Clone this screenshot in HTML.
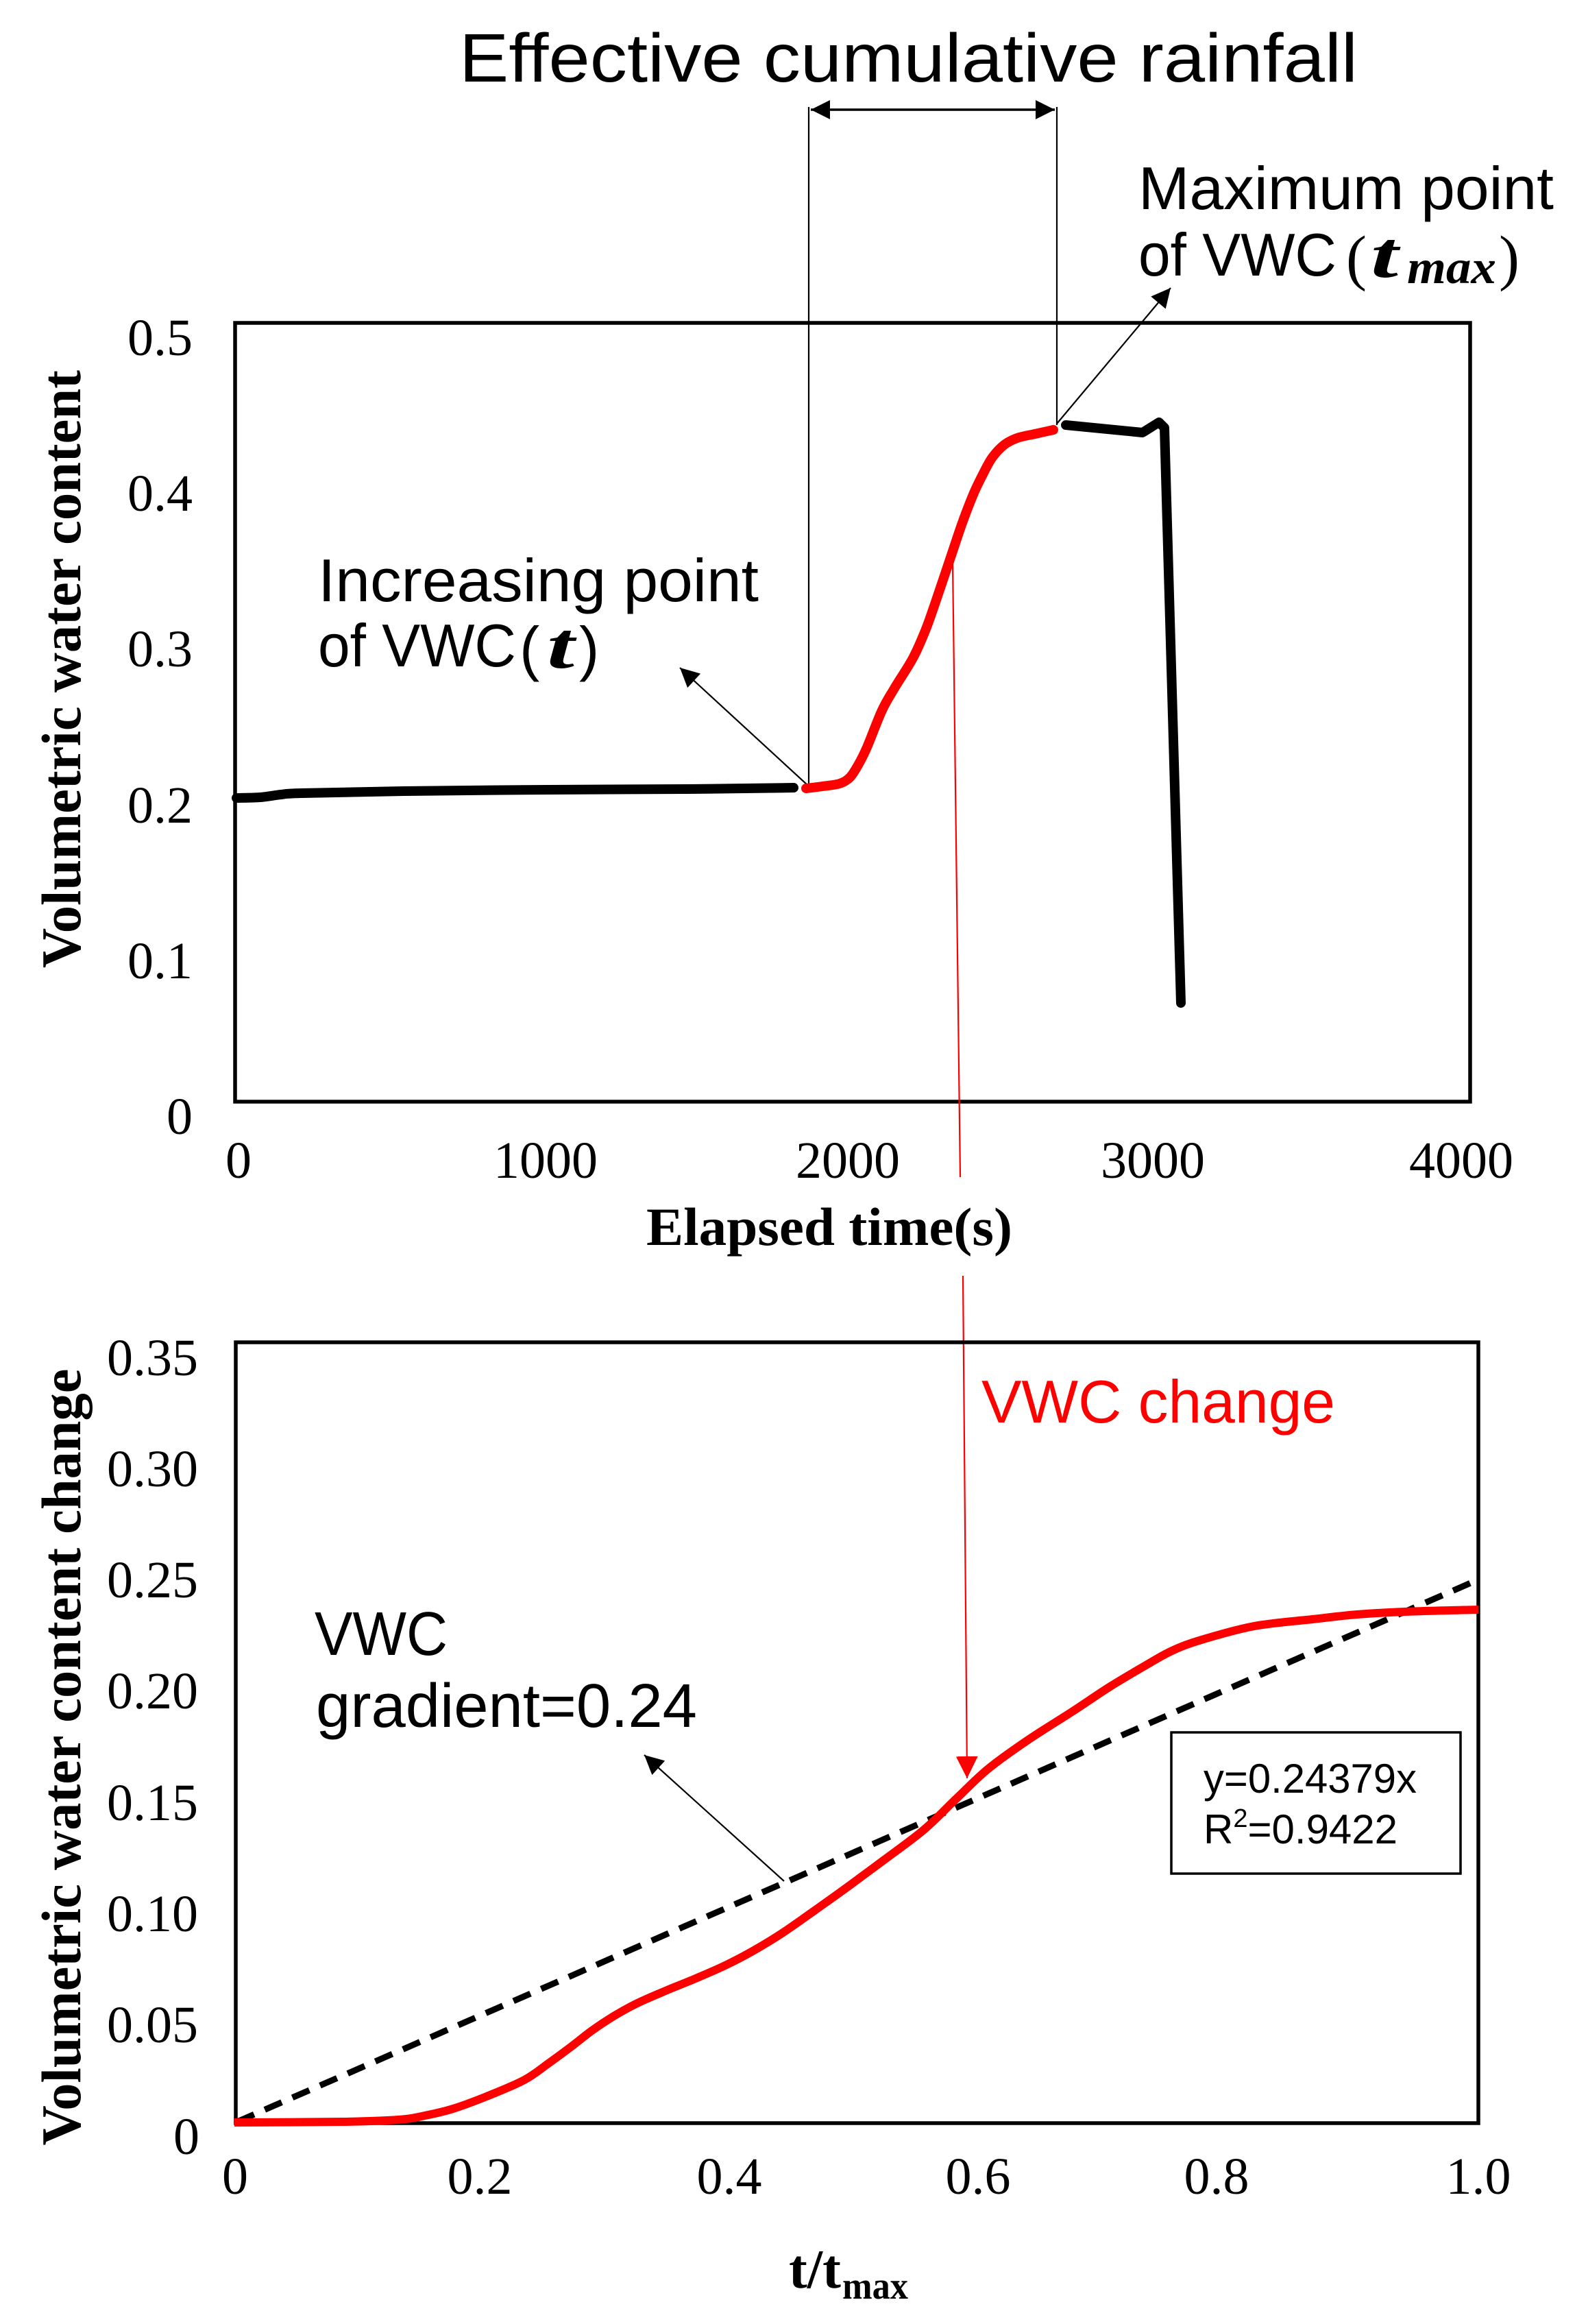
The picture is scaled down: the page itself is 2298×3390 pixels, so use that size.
<!DOCTYPE html>
<html>
<head>
<meta charset="utf-8">
<style>
  html, body { margin: 0; padding: 0; background: #ffffff; }
  svg { display: block; }
  .serif { font-family: "Liberation Serif", "Times New Roman", serif; }
  .sans { font-family: "Liberation Sans", Arial, sans-serif; }
</style>
</head>
<body>
<svg id="chart" width="2298" height="3390" viewBox="0 0 2298 3390" xmlns="http://www.w3.org/2000/svg">
  <defs>
    <marker id="ah" viewBox="0 0 10 10" refX="10" refY="5" markerUnits="userSpaceOnUse" markerWidth="36" markerHeight="28" orient="auto-start-reverse">
      <path d="M0,0 L10,5 L0,10 z" fill="#000"/>
    </marker>
    <marker id="ahr" viewBox="0 0 10 10" refX="10" refY="5" markerUnits="userSpaceOnUse" markerWidth="32" markerHeight="36" orient="auto">
      <path d="M0,0 L10,5 L0,10 z" fill="#ff0000"/>
    </marker>
  </defs>

  <rect x="0" y="0" width="2298" height="3390" fill="#fff"/>

  <!-- ================= TOP CHART ================= -->
  <text class="sans" x="670" y="119" font-size="100" textLength="1311" lengthAdjust="spacingAndGlyphs" fill="#000">Effective cumulative rainfall</text>

  <line x1="1180" y1="156" x2="1180" y2="1145" stroke="#000" stroke-width="2.2"/>
  <line x1="1542" y1="156" x2="1542" y2="620" stroke="#000" stroke-width="2.2"/>
  <line x1="1183" y1="160" x2="1539" y2="160" stroke="#000" stroke-width="3.5" marker-start="url(#ah)" marker-end="url(#ah)"/>

  <!-- Maximum point annotation -->
  <text class="sans" x="1661" y="305" font-size="88" textLength="606" lengthAdjust="spacingAndGlyphs" fill="#000">Maximum point</text>
  <text class="sans" x="1661" y="402" font-size="88" textLength="289" lengthAdjust="spacingAndGlyphs" fill="#000">of VWC</text>
  <text class="serif" x="1964" y="406" font-size="90" fill="#000">(</text>
  <text class="serif" x="2000" y="404" font-size="96" font-style="italic" font-weight="bold" textLength="40" lengthAdjust="spacingAndGlyphs" fill="#000">t</text>
  <text class="serif" x="2053" y="413" font-size="70" font-style="italic" font-weight="bold" textLength="130" lengthAdjust="spacingAndGlyphs" fill="#000">max</text>
  <text class="serif" x="2187" y="406" font-size="90" fill="#000">)</text>
  <line x1="1542" y1="618" x2="1708" y2="420" stroke="#000" stroke-width="2.2" marker-end="url(#ah)"/>

  <!-- Increasing point annotation -->
  <text class="sans" x="464" y="877" font-size="88" textLength="643" lengthAdjust="spacingAndGlyphs" fill="#000">Increasing point</text>
  <text class="sans" x="464" y="972" font-size="88" textLength="289" lengthAdjust="spacingAndGlyphs" fill="#000">of VWC</text>
  <text class="sans" x="758" y="976" font-size="88" fill="#000">(</text>
  <text class="serif" x="798" y="974" font-size="96" font-style="italic" font-weight="bold" textLength="40" lengthAdjust="spacingAndGlyphs" fill="#000">t</text>
  <text class="sans" x="845" y="976" font-size="88" fill="#000">)</text>
  <line x1="1178" y1="1145" x2="992" y2="974" stroke="#000" stroke-width="2.2" marker-end="url(#ah)"/>

  <rect x="343" y="471" width="1802" height="1136" fill="none" stroke="#000" stroke-width="5.5"/>

  <g class="serif" font-size="76" fill="#000" text-anchor="end">
    <text x="281" y="518">0.5</text>
    <text x="281" y="745">0.4</text>
    <text x="281" y="972">0.3</text>
    <text x="281" y="1200">0.2</text>
    <text x="281" y="1427">0.1</text>
    <text x="281" y="1654">0</text>
  </g>
  <g class="serif" font-size="76" fill="#000" text-anchor="middle">
    <text x="348" y="1718">0</text>
    <text x="796" y="1718">1000</text>
    <text x="1237" y="1718">2000</text>
    <text x="1682" y="1718">3000</text>
    <text x="2132" y="1718">4000</text>
  </g>
  <text class="serif" x="943" y="1816" font-size="78" font-weight="bold" textLength="534" lengthAdjust="spacingAndGlyphs" fill="#000">Elapsed time(s)</text>
  <text class="serif" transform="translate(117,976) rotate(-90)" text-anchor="middle" font-size="82" font-weight="bold" textLength="872" lengthAdjust="spacingAndGlyphs" fill="#000">Volumetric water content</text>

  <polyline class="smooth" fill="none" stroke="#000" stroke-width="14" stroke-linecap="round" stroke-linejoin="round"
    points="345,1164 380,1163 410,1159 440,1157 589,1154 800,1152 1000,1151 1158,1149"/>
  <polyline class="smooth" fill="none" stroke="#ff0000" stroke-width="14" stroke-linecap="round" stroke-linejoin="round"
    points="1176,1150 1200,1147 1225,1143 1240,1134 1252,1116 1265,1090 1287,1036 1305,1004 1332,960 1350,920 1363,884 1390,804 1405,760 1421,719 1435,690 1448,667 1465,649 1484,639 1510,633 1537,627"/>
  <polyline fill="none" stroke="#000" stroke-width="14" stroke-linecap="round" stroke-linejoin="round"
    points="1555,620 1667,631 1691,616 1699,624 1723,1463"/>

  <line x1="1390" y1="821" x2="1401" y2="1717" stroke="#ff0000" stroke-width="2.2"/>
  <line x1="1405" y1="1861" x2="1411" y2="2594" stroke="#ff0000" stroke-width="2.2" marker-end="url(#ahr)"/>

  <!-- ================= BOTTOM CHART ================= -->
  <rect x="344" y="1958" width="1813" height="1139" fill="none" stroke="#000" stroke-width="5.5"/>

  <g class="serif" font-size="76" fill="#000" text-anchor="end">
    <text x="289" y="2006">0.35</text>
    <text x="289" y="2168">0.30</text>
    <text x="289" y="2330">0.25</text>
    <text x="289" y="2492">0.20</text>
    <text x="289" y="2655">0.15</text>
    <text x="289" y="2817">0.10</text>
    <text x="289" y="2979">0.05</text>
    <text x="291" y="3142">0</text>
  </g>
  <g class="serif" font-size="76" fill="#000" text-anchor="middle">
    <text x="343" y="3200">0</text>
    <text x="700" y="3200">0.2</text>
    <text x="1064" y="3200">0.4</text>
    <text x="1427" y="3200">0.6</text>
    <text x="1775" y="3200">0.8</text>
    <text x="2157" y="3200">1.0</text>
  </g>
  <text class="serif" x="1151" y="3337" font-size="80" font-weight="bold" textLength="76" lengthAdjust="spacingAndGlyphs" fill="#000">t/t</text>
  <text class="serif" x="1229" y="3353" font-size="56" font-weight="bold" textLength="96" lengthAdjust="spacingAndGlyphs" fill="#000">max</text>
  <text class="serif" transform="translate(117,2563) rotate(-90)" text-anchor="middle" font-size="82" font-weight="bold" textLength="1133" lengthAdjust="spacingAndGlyphs" fill="#000">Volumetric water content change</text>

  <line x1="346" y1="3095" x2="2155" y2="2305" stroke="#000" stroke-width="9" stroke-dasharray="27 17"/>

  <polyline class="smooth" fill="none" stroke="#ff0000" stroke-width="12" stroke-linecap="butt" stroke-linejoin="round"
    points="342,3096 500,3095 581,3092 620,3086 661,3076 710,3058 765,3034 800,3010 834,2985 865,2961 897,2940 930,2922 971,2904 1015,2886 1058,2867 1100,2845 1144,2818 1201,2778 1240,2750 1290,2713 1348,2669 1395,2624 1442,2580 1500,2538 1564,2497 1620,2460 1672,2429 1710,2408 1753,2392 1830,2372 1915,2362 1980,2355 2050,2351 2157,2348"/>

  <text class="sans" x="1432" y="2075" font-size="88" textLength="516" lengthAdjust="spacingAndGlyphs" fill="#ff0000">VWC change</text>

  <text class="sans" x="459" y="2414" font-size="90" textLength="194" lengthAdjust="spacingAndGlyphs" fill="#000">VWC</text>
  <text class="sans" x="461" y="2519" font-size="90" textLength="556" lengthAdjust="spacingAndGlyphs" fill="#000">gradient=0.24</text>
  <line x1="1144" y1="2744" x2="940" y2="2560" stroke="#000" stroke-width="2.2" marker-end="url(#ah)"/>

  <rect x="1709" y="2527" width="422" height="206" fill="#fff" stroke="#000" stroke-width="3.5"/>
  <text class="sans" x="1756" y="2615" font-size="60" textLength="311" lengthAdjust="spacingAndGlyphs" fill="#000">y=0.24379x</text>
  <text class="sans" x="1756" y="2689" font-size="60" fill="#000">R<tspan font-size="38" dy="-24">2</tspan><tspan dy="24">=0.9422</tspan></text>
</svg>
<script>
(function(){
  var NS = "http://www.w3.org/2000/svg";
  var pls = document.querySelectorAll("polyline.smooth");
  for (var k = 0; k < pls.length; k++) {
    var pl = pls[k];
    var pts = pl.getAttribute("points").trim().split(/\s+/).map(function(p){ return p.split(",").map(Number); });
    if (pts.length < 3) continue;
    var d = "M" + pts[0][0] + "," + pts[0][1];
    for (var i = 0; i < pts.length - 1; i++) {
      var p0 = pts[i - 1] || pts[i], p1 = pts[i], p2 = pts[i + 1], p3 = pts[i + 2] || pts[i + 1];
      var c1x = p1[0] + (p2[0] - p0[0]) / 6, c1y = p1[1] + (p2[1] - p0[1]) / 6;
      var c2x = p2[0] - (p3[0] - p1[0]) / 6, c2y = p2[1] - (p3[1] - p1[1]) / 6;
      d += " C" + c1x.toFixed(1) + "," + c1y.toFixed(1) + " " + c2x.toFixed(1) + "," + c2y.toFixed(1) + " " + p2[0] + "," + p2[1];
    }
    var path = document.createElementNS(NS, "path");
    var attrs = ["fill","stroke","stroke-width","stroke-linecap","stroke-linejoin"];
    for (var a = 0; a < attrs.length; a++) {
      var v = pl.getAttribute(attrs[a]);
      if (v !== null) path.setAttribute(attrs[a], v);
    }
    path.setAttribute("d", d);
    pl.parentNode.replaceChild(path, pl);
  }
})();
</script>
</body>
</html>
